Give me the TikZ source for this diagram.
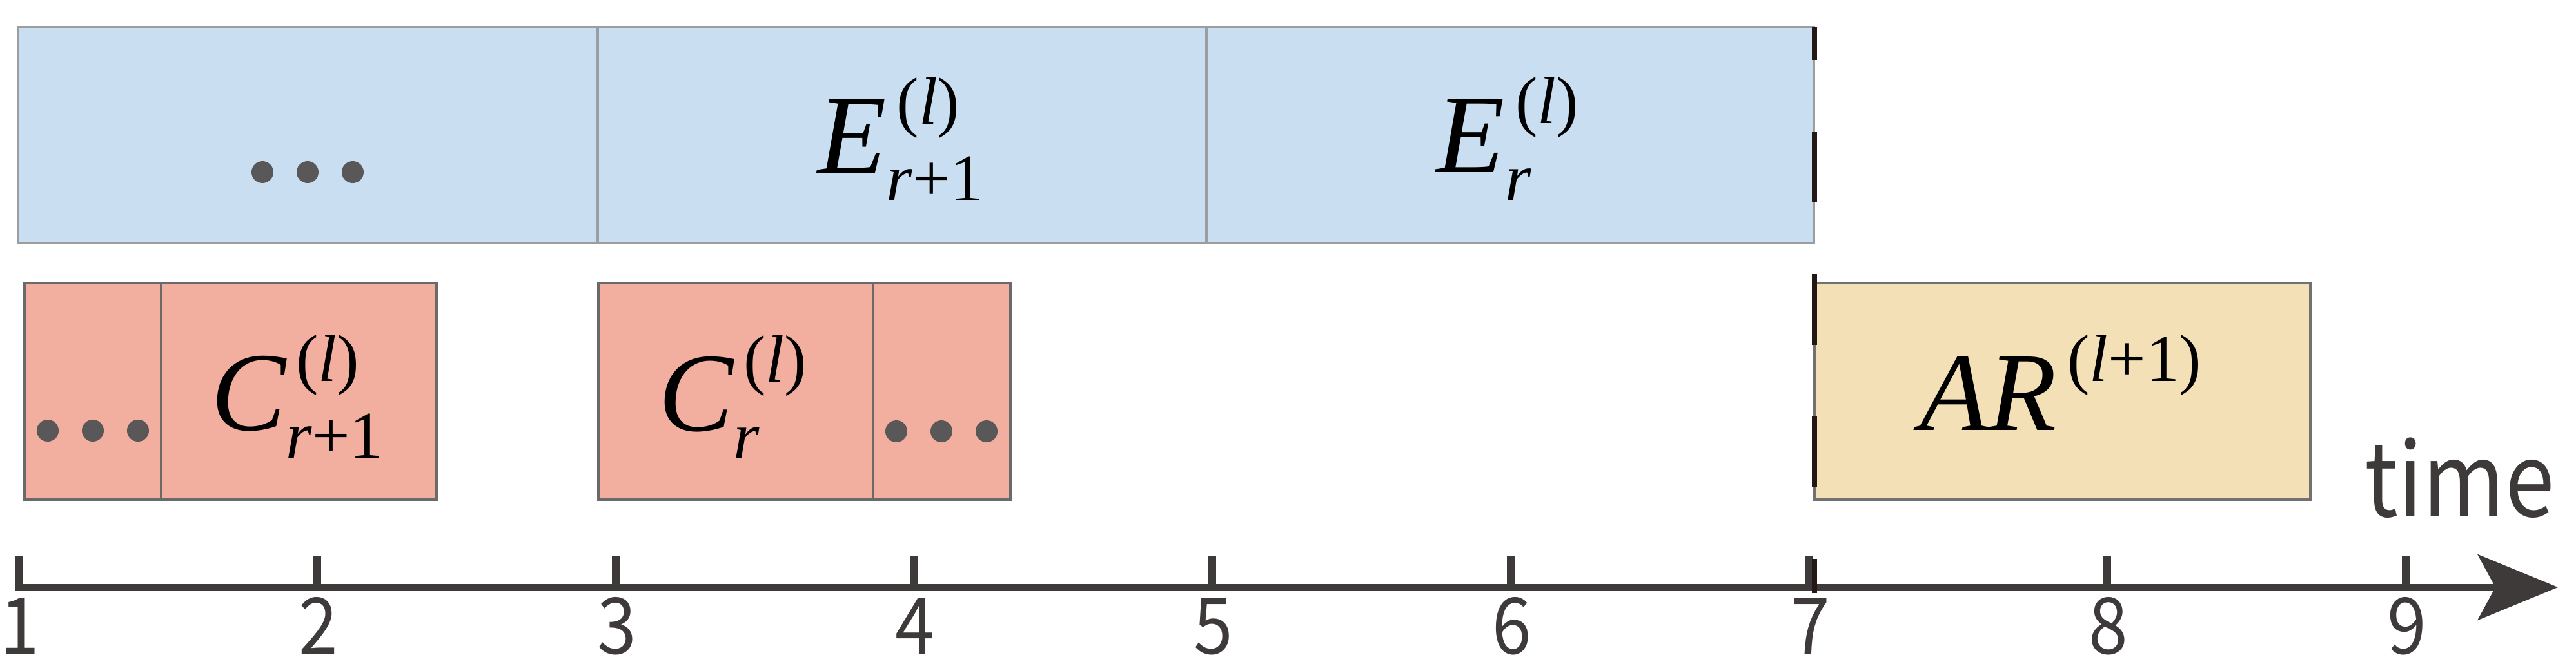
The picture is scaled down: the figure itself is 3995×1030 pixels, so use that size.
\documentclass[tikz,border=0pt]{standalone}
\usepackage{fontspec}
\setmainfont{Liberation Serif}
\newfontfamily\cjk{Noto Sans CJK SC}
\usetikzlibrary{arrows.meta}
\definecolor{bluefill}{HTML}{C9DFF1}
\definecolor{blueline}{HTML}{9C9D9E}
\definecolor{redfill}{HTML}{F2AE9F}
\definecolor{redline}{HTML}{6A6A6A}
\definecolor{yelfill}{HTML}{F4E0B7}
\definecolor{yelline}{HTML}{727171}
\definecolor{dotgray}{HTML}{595757}
\definecolor{axisgray}{HTML}{3E3A39}
\definecolor{dashblack}{HTML}{231815}
\newsavebox\supbox
\newsavebox\subbox
% #1 main (italic), #2 superscript, #3 subscript
\newcommand\lab[3]{%
  \sbox\supbox{\fontsize{29.5}{34}\selectfont\kern4.5pt #2}%
  \sbox\subbox{\fontsize{29.5}{34}\selectfont #3}%
  {\itshape #1}%
  \ifdim\wd\supbox>\wd\subbox
    \rlap{\raisebox{21.5pt}{\usebox\supbox}}\raisebox{-12.5pt}{\usebox\subbox}\kern\dimexpr\wd\supbox-\wd\subbox\relax
  \else
    \rlap{\raisebox{21.5pt}{\usebox\supbox}}\raisebox{-12.5pt}{\usebox\subbox}%
  \fi}
\newcommand\narrow[2]{\scalebox{#1}[1]{#2}}
\tikzset{
  boxbase/.style={rectangle, inner sep=0pt, outer sep=0pt, line width=0.04cm},
  boxE/.style={boxbase, fill=bluefill, draw=blueline, minimum height=3.35cm},
  boxC/.style={boxbase, fill=redfill, draw=redline, minimum height=3.36cm},
  boxAR/.style={boxbase, fill=yelfill, draw=yelline, minimum height=3.36cm},
  lbl/.style={inner sep=0pt, anchor=base, font=\fontsize{49.5}{60}\selectfont},
  dotc/.style={fill=dotgray, draw=none},
  tickln/.style={draw=axisgray, line width=0.12cm},
  ticklbl/.style={inner sep=0pt, anchor=base, text=axisgray, font=\cjk\fontsize{34.5}{40}\selectfont},
  axisln/.style={draw=axisgray, line width=0.11cm, -{Stealth[length=1.24cm, width=1.01cm, inset=0.27cm]}},
  dashln/.style={draw=dashblack, line width=0.08cm, dash pattern=on 1.1cm off 1.11cm, dash phase=0.59cm}
}
\begin{document}
\begin{tikzpicture}[x=0.01cm, y=-0.01cm]
\useasboundingbox (0,0) rectangle (3995,1030);
% E row
\node[boxE, minimum width=8.99cm] (b0) at (477.5,209.5) {};
\node[boxE, minimum width=9.44cm] (b1) at (1399,209.5) {};
\node[boxE, minimum width=9.42cm] (b2) at (2342,209.5) {};
% C row
\node[boxC, minimum width=2.12cm] (c0) at (144,607) {};
\node[boxC, minimum width=4.27cm] (c1) at (463.5,607) {};
\node[boxC, minimum width=4.26cm] (c2) at (1141,607) {};
\node[boxC, minimum width=2.13cm] (c3) at (1460.5,607) {};
% AR
\node[boxAR, minimum width=7.69cm] (ar) at (3198.5,607) {};
% dots
\foreach \dx in {-70,0,70} {
  \fill[dotc] (477+\dx,267) circle (0.17cm);
  \fill[dotc] (144+\dx,668) circle (0.17cm);
  \fill[dotc] (1460+\dx,669) circle (0.17cm);
}
% labels
\node[lbl] (lE1) at (1397,268) {\lab{E}{(\textit{l\/})}{\textit{r}+1}};
\node[lbl] (lE0) at (2338,267) {\lab{E}{(\textit{l\/})}{\textit{r}}};
\node[lbl] (lC1) at (461,667) {\lab{C}{(\textit{l\/})}{\textit{r}+1}};
\node[lbl] (lC0) at (1136,668) {\lab{C}{(\textit{l\/})}{\textit{r}}};
\node[lbl] (lAR) at (3196,667) {\lab{AR}{(\textit{l}+1)}{}};
% axis
\coordinate (ax0) at (23,911);
\coordinate (ax1) at (3967,911);
\draw[axisln] (ax0) -- (ax1);
\foreach \i in {1,...,9} {
  \coordinate (t\i) at ({29+(\i-1)*462.75},911);
  \draw[tickln] ({29+(\i-1)*462.75},863) -- (t\i);
  \node[ticklbl] (n\i) at ({31+(\i-1)*462.75},1014) {\narrow{0.9}{\i}};
}
\node[inner sep=0pt, anchor=base east, text=axisgray, font=\cjk\fontsize{45}{52}\selectfont] (time) at (3962,801) {\narrow{0.87}{time}};
% dashed marker
\coordinate (dtop) at (2814,42);
\coordinate (dbot) at (2814,920);
\draw[dashln] (dtop) -- (dbot);
\end{tikzpicture}
\end{document}
